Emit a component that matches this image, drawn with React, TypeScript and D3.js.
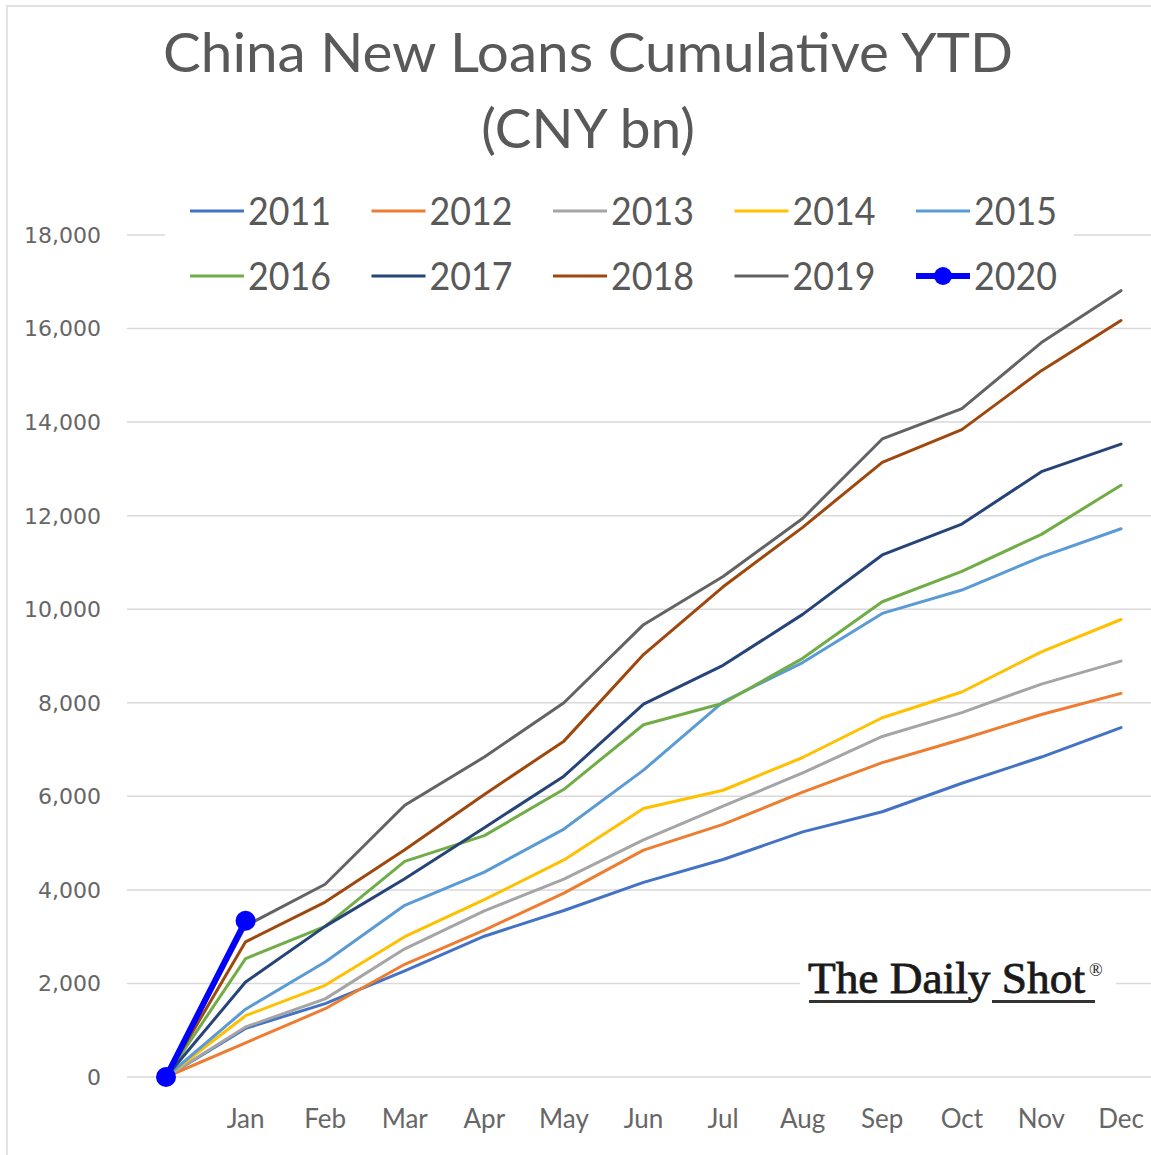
import React from "react";
import * as d3 from "d3";

const months = ["", "Jan", "Feb", "Mar", "Apr", "May", "Jun", "Jul", "Aug", "Sep", "Oct", "Nov", "Dec"];
const yTicks = [0, 2000, 4000, 6000, 8000, 10000, 12000, 14000, 16000, 18000];

const s2011 = [0, 1040, 1570, 2270, 3010, 3560, 4160, 4650, 5240, 5670, 6280, 6840, 7470];
const s2012 = [0, 730, 1460, 2410, 3140, 3930, 4850, 5400, 6090, 6720, 7220, 7750, 8200];
const s2013 = [0, 1070, 1670, 2740, 3550, 4230, 5070, 5790, 6500, 7280, 7790, 8400, 8890];
const s2014 = [0, 1310, 1960, 3000, 3790, 4640, 5740, 6130, 6830, 7680, 8230, 9090, 9780];
const s2015 = [0, 1450, 2460, 3670, 4380, 5300, 6560, 8020, 8860, 9910, 10410, 11120, 11720];
const s2016 = [0, 2530, 3220, 4610, 5160, 6150, 7530, 7990, 8950, 10160, 10810, 11600, 12650];
const s2017 = [0, 2030, 3220, 4240, 5330, 6430, 7970, 8800, 9890, 11160, 11820, 12940, 13530];
const s2018 = [0, 2890, 3740, 4860, 6040, 7180, 9030, 10480, 11750, 13140, 13840, 15100, 16170];
const s2019 = [0, 3230, 4120, 5810, 6840, 8000, 9670, 10700, 11940, 13640, 14290, 15700, 16810];
const s2020 = [0, 3340];

const seriesNames = ["2011", "2012", "2013", "2014", "2015", "2016", "2017", "2018", "2019", "2020"];
const seriesValues = [s2011, s2012, s2013, s2014, s2015, s2016, s2017, s2018, s2019, s2020];
const seriesColors = ["#4472C4", "#ED7D31", "#A5A5A5", "#FFC000", "#5B9BD5", "#70AD47", "#264478", "#9E480E", "#636363", "#0000FF"];

const W = 1151;
const H = 1155;
const SANS = "Lato, 'Open Sans', sans-serif";

export default function App() {
  const x = d3.scalePoint<string>().domain(months).range([166, 1121]);
  const y = d3.scaleLinear().domain([0, 18000]).range([1077, 235]);
  const line = d3
    .line<number>()
    .x((_, i) => x(months[i]) as number)
    .y((d) => y(d));
  const fmt = d3.format(",");

  return (
    <svg width={W} height={H} style={{ position: "absolute", left: 0, top: 0, background: "#fff" }}>
      <rect x={0} y={0} width={W} height={H} fill="#fff" />
      <rect x={7} y={6} width={1160} height={1160} fill="none" stroke="#d9d9d9" strokeWidth={1.5} />
      {/* title */}
      <text x={163} y={72} fontFamily={SANS} fontSize={55} fill="#595959" textLength={850} lengthAdjust="spacingAndGlyphs">
        China New Loans Cumulative YTD
      </text>
      <text x={588} y={148} textAnchor="middle" fontFamily={SANS} fontSize={55} fill="#595959">
        (CNY bn)
      </text>
      {/* gridlines */}
      {yTicks.map((t) => (
        <line key={t} x1={127} x2={W} y1={y(t)} y2={y(t)} stroke="#d9d9d9" strokeWidth={1.5} />
      ))}
      {/* y labels */}
      {yTicks.map((t) => (
        <text
          key={"l" + t}
          x={101}
          y={y(t)}
          dy="0.36em"
          textAnchor="end"
          fontFamily="'DejaVu Sans', sans-serif"
          fontSize={22}
          fill="#666"
        >
          {fmt(t)}
        </text>
      ))}
      {/* x labels */}
      {months.slice(1).map((m) => (
        <text key={m} x={x(m)} y={1128} textAnchor="middle" fontFamily={SANS} fontSize={26} fill="#666">
          {m}
        </text>
      ))}
      {/* logo */}
      <rect x={800} y={952} width={316} height={58} fill="#fff" />
      <text
        x={808}
        y={993}
        fontFamily="'Liberation Serif', 'DejaVu Serif', serif"
        fontSize={44}
        fill="#1a1a1a"
        stroke="#1a1a1a"
        strokeWidth={0.8}
        textLength={277}
        lengthAdjust="spacingAndGlyphs"
      >
        The Daily Shot
      </text>
      <text x={1089} y={976} fontFamily="'Liberation Serif', serif" fontSize={18} fill="#1a1a1a">
        ®
      </text>
      <rect x={809} y={1000} width={163} height={3} fill="#333" />
      <rect x={992} y={1000} width={103} height={3} fill="#333" />
      {/* series */}
      {seriesValues.map((vals, i) => (
        <path
          key={seriesNames[i]}
          d={line(vals) || ""}
          fill="none"
          stroke={seriesColors[i]}
          strokeWidth={i === 9 ? 6 : 3}
          strokeLinejoin="round"
          strokeLinecap="round"
        />
      ))}
      {s2020.map((v, i) => (
        <circle key={"m" + i} cx={x(months[i])} cy={y(v)} r={10} fill="#0000FF" />
      ))}
      {/* legend */}
      <rect x={165} y={186} width={909} height={112} fill="#fff" />
      {seriesNames.map((n, i) => {
        const col = i % 5;
        const row = Math.floor(i / 5);
        const lx = 190 + col * 181.5;
        const ly = 211 + row * 65;
        return (
          <g key={"lg" + n}>
            <line x1={lx} x2={lx + 54} y1={ly} y2={ly} stroke={seriesColors[i]} strokeWidth={i === 9 ? 6 : 3} />
            {i === 9 && <circle cx={lx + 27} cy={ly} r={9} fill="#0000FF" />}
            <text
              x={lx + 58}
              y={ly + 14}
              fontFamily={SANS}
              fontSize={39}
              fill="#595959"
              textLength={83}
              lengthAdjust="spacingAndGlyphs"
            >
              {n}
            </text>
          </g>
        );
      })}
    </svg>
  );
}
